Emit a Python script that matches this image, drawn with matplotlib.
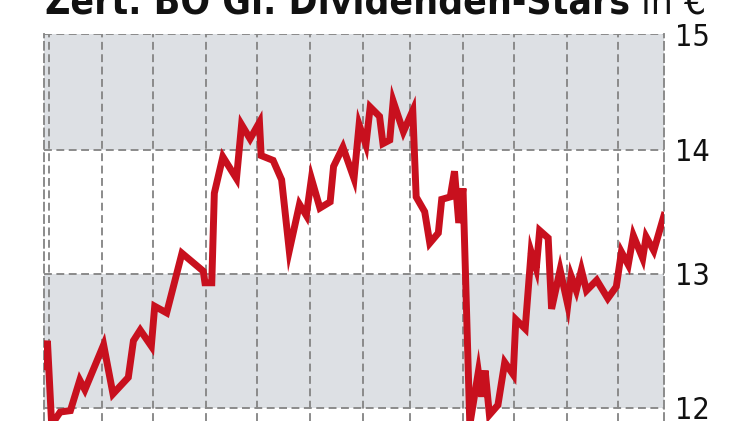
import numpy as np
import pandas as pd
import matplotlib
matplotlib.use('Agg')
import matplotlib.pyplot as plt
import matplotlib.dates as mdates
from matplotlib.ticker import FixedLocator, FixedFormatter, NullLocator

# data (days after start, price in EUR)
start = pd.Timestamp('2018-07-29')
days = [0, 2, 4.5, 9.5, 15.5, 21, 24, 35, 40.5, 49.5,
        52.5, 56.5, 63, 65, 72, 81, 93.5, 94.5, 98.5, 100,
        105, 113, 116, 121, 126.5, 127.5, 134.5, 139.5, 144, 150,
        154, 157, 162, 168, 170, 175.5, 182, 185, 189, 191.5,
        197, 199, 203, 205, 211, 216.5, 218.5, 223.5, 226.5, 231.5,
        233.5, 238.5, 241, 243.5, 246, 250, 255, 257, 259, 261.5,
        266.5, 270.5, 275.5, 277, 282.5, 286, 289, 291, 296, 298,
        303, 307.5, 309.5, 312.5, 315.5, 318.5, 324.5, 331, 336, 339,
        343, 346, 351.5, 353.5, 358, 364]
price = [12.30, 12.49, 11.88, 11.97, 11.98, 12.20, 12.13, 12.46, 12.10, 12.22,
         12.49, 12.57, 12.45, 12.75, 12.70, 13.16, 13.02, 12.93, 12.93, 13.64,
         13.94, 13.76, 14.21, 14.09, 14.23, 13.95, 13.91, 13.75, 13.18, 13.55,
         13.46, 13.76, 13.52, 13.57, 13.86, 14.02, 13.76, 14.21, 14.04, 14.36,
         14.28, 14.05, 14.08, 14.41, 14.15, 14.33, 13.61, 13.49, 13.24, 13.32,
         13.59, 13.61, 13.82, 13.40, 13.68, 11.88, 12.26, 12.08, 12.27, 11.95,
         12.02, 12.33, 12.24, 12.65, 12.58, 13.17, 13.04, 13.34, 13.28, 12.73,
         13.03, 12.76, 12.98, 12.87, 13.03, 12.87, 12.95, 12.81, 12.90, 13.17,
         13.07, 13.30, 13.12, 13.29, 13.18, 13.46]
yticks = [12, 13, 14, 15]
ytick_labels = ['12', '13', '14', '15']
title_bold = 'Zert. BO Gl. Dividenden-Stars'
title_unit = ' in €'

fam = 'DejaVu Sans'
grid_col = '#878787'
band_col = '#dde0e4'
dash = (0, (4.2, 2.4))

dates = start + pd.to_timedelta(days, unit='D')

fig = plt.figure(figsize=(7.5, 4.21), dpi=100)
ax = fig.add_axes([44 / 750, 0, 620 / 750, 1 - 34 / 421])

ax.set_yscale('log')
ax.set_ylim(11.906, 15)
ax.set_xlim(start, start + pd.Timedelta(days=364))

ax.axhspan(14, 15, color=band_col, zorder=0, lw=0)
ax.axhspan(12, 13, color=band_col, zorder=0, lw=0)

ax.plot(dates, price, color='#c8101e', lw=5.0, zorder=3, solid_joinstyle='miter')

ax.yaxis.set_major_locator(FixedLocator(yticks))
ax.yaxis.set_major_formatter(FixedFormatter(ytick_labels))
ax.yaxis.set_minor_locator(NullLocator())
ax.yaxis.tick_right()
ax.tick_params(axis='y', length=0, pad=8, labelsize=22, labelcolor='#111111')
for lab in ax.get_yticklabels():
    lab.set_family(fam)
    lab.set_stretch('condensed')

ax.xaxis.set_major_locator(mdates.MonthLocator())
ax.xaxis.set_minor_locator(NullLocator())
ax.tick_params(axis='x', length=0, labelbottom=False)

ax.set_axisbelow(True)
ax.grid(True, color=grid_col, lw=1.35, linestyle=dash)

for s in ['top', 'bottom']:
    ax.spines[s].set_visible(False)
for s in ['left', 'right']:
    ax.spines[s].set_color(grid_col)
    ax.spines[s].set_linewidth(1.35)
    ax.spines[s].set_linestyle(dash)

t1 = fig.text(45 / 750, 1 - 14 / 421, title_bold, fontsize=28, fontweight='bold',
              family=fam, stretch='condensed', va='baseline', ha='left',
              color='#111111')
fig.canvas.draw()
bb = t1.get_window_extent()
fig.text(bb.x1 / 750, 1 - 14 / 421, title_unit, fontsize=28, stretch='condensed',
         family=fam, va='baseline', ha='left', color='#111111')

fig.savefig('out.png', dpi=100)
